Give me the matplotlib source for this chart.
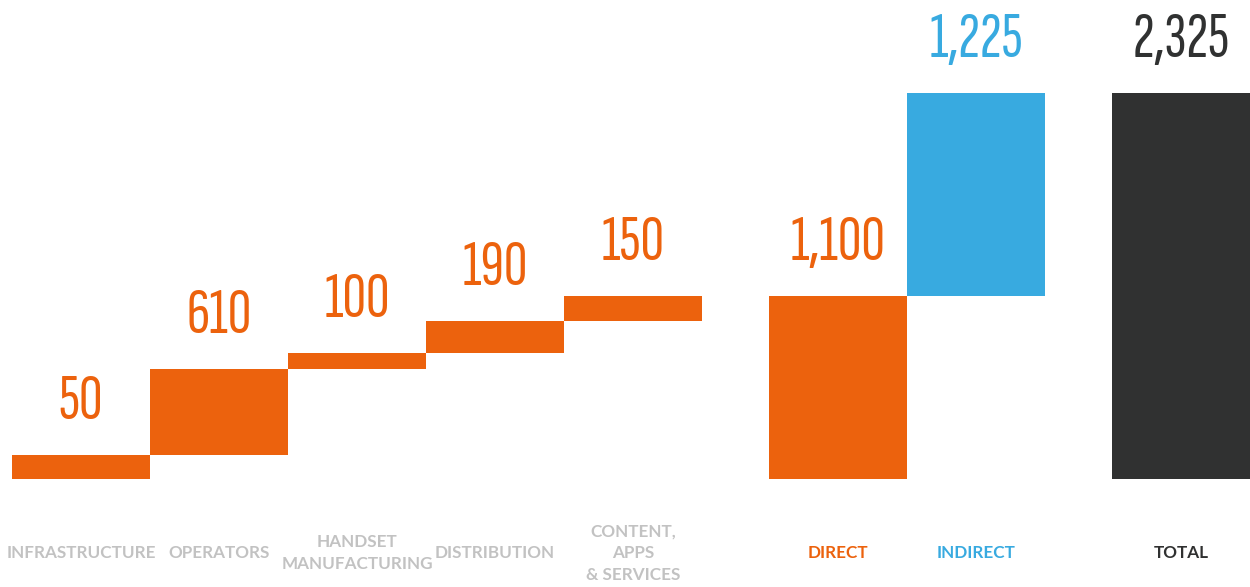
import numpy as np
import matplotlib.pyplot as plt

# Data
categories = ['INFRASTRUCTURE', 'OPERATORS', 'HANDSET\nMANUFACTURING', 'DISTRIBUTION',
              'CONTENT,\nAPPS\n& SERVICES', 'DIRECT', 'INDIRECT', 'TOTAL']
labels = ['50', '610', '100', '190', '150', '1,100', '1,225', '2,325']
# segment heights as drawn in the picture (first two segments are not to scale)
segments = [145, 515, 100, 190, 150]
indirect = 1225

ORANGE = '#EC620D'
BLUE = '#38AAE0'
DARK = '#303131'
GRAY = '#C2C2C2'

direct = sum(segments)
total = direct + indirect
bottoms = list(np.cumsum([0] + segments[:-1])) + [0, direct, 0]
heights = segments + [direct, indirect, total]
colors = [ORANGE] * 6 + [BLUE, DARK]
label_colors = [ORANGE] * 6 + [BLUE, DARK]
cat_colors = [GRAY] * 5 + [ORANGE, BLUE, DARK]

gap = 0.486
x = [0, 1, 2, 3, 4, 5 + gap, 6 + gap, 7 + 2 * gap]

fig = plt.figure(figsize=(12.5, 5.87), dpi=100)
ax = fig.add_axes([0, 0, 1, 1])
ax.bar(x, heights, bottom=bottoms, width=1.0, color=colors, linewidth=0)

for xi, b, h, lab, c in zip(x, bottoms, heights, labels, label_colors):
    ax.annotate(lab, (xi, b + h), xytext=(0, 26), textcoords='offset points',
                ha='center', va='baseline', color=c, fontsize=47,
                family=['Sofia Sans Extra Condensed', 'DejaVu Sans'], fontweight=300)

for xi, cat, c in zip(x, categories, cat_colors):
    ax.text(xi, -446, cat, ha='center', va='center', color=c, fontsize=12.3,
            fontweight='bold', family=['Lato', 'DejaVu Sans'], linespacing=1.42,
            multialignment='center')

ax.set_xlim(-0.587, x[-1] + 0.5)
ax.set_ylim(-650.5, 2885)
ax.axis('off')
fig.savefig('out.png', dpi=100)
